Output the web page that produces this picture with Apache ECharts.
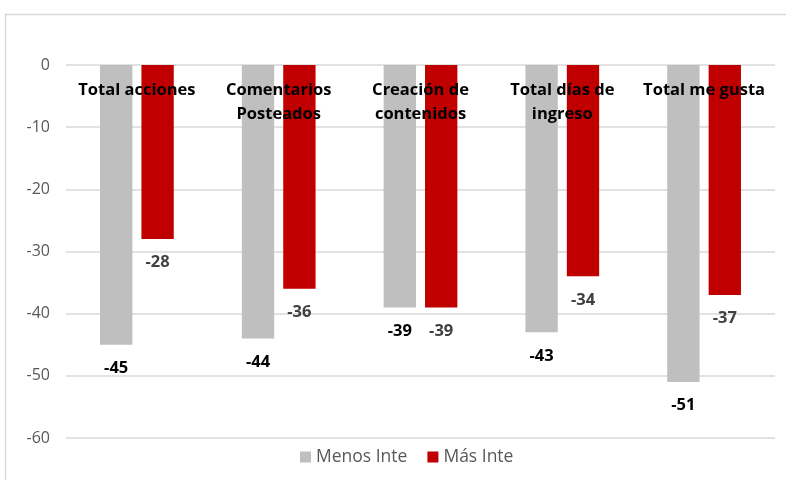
<!DOCTYPE html>
<html>
<head>
<meta charset="utf-8">
<script src="https://cdn.jsdelivr.net/npm/echarts@6/dist/echarts.min.js"></script>
<style>
html,body{margin:0;padding:0;background:#fff;}
#chart{width:786px;height:480px;}
</style>
</head>
<body>
<div id="chart"></div>
<script>
var categories = ['Total acciones', 'Comentarios\nPosteados', 'Creación de\ncontenidos', 'Total días de\ningreso', 'Total me gusta'];
var menosInte = [-45, -44, -39, -43, -51];
var masInte = [-28, -36, -39, -34, -37];
var seriesNames = ['Menos Inte', 'Más Inte'];

var font = 'Open Sans';
var myChart = echarts.init(document.getElementById('chart'));

var option = {
    animation: false,
    textStyle: {fontFamily: font},
    graphic: [{
        type: 'rect',
        shape: {x: 5.5, y: 14.5, width: 800, height: 500},
        style: {fill: 'none', stroke: '#d9d9d9', lineWidth: 1.5},
        silent: true
    }],
    grid: {left: 66, right: 11, top: 65, bottom: 42},
    legend: {
        bottom: 9,
        left: 295,
        itemWidth: 11,
        itemHeight: 11,
        itemGap: 20,
        icon: 'rect',
        textStyle: {color: '#595959', fontSize: 17.5, fontFamily: font},
        data: seriesNames
    },
    xAxis: {
        type: 'category',
        position: 'top',
        data: categories,
        axisLine: {show: false},
        axisTick: {show: false},
        axisLabel: {
            inside: true,
            margin: 13,
            color: '#000',
            fontWeight: 'bold',
            fontSize: 16.5,
            lineHeight: 24,
            verticalAlign: 'top',
            interval: 0
        },
        z: 10
    },
    yAxis: {
        type: 'value',
        min: -60,
        max: 0,
        interval: 10,
        axisLine: {show: false},
        axisTick: {show: false},
        splitLine: {lineStyle: {color: '#d9d9d9', width: 1.5}},
        axisLabel: {color: '#595959', fontSize: 16, margin: 16}
    },
    series: [{
        name: seriesNames[0],
        type: 'bar',
        data: menosInte,
        barGap: '28%',
        barCategoryGap: '48%',
        itemStyle: {color: '#bfbfbf'},
        label: {
            show: true,
            position: 'bottom',
            distance: 15,
            color: '#000',
            fontWeight: 'bold',
            fontSize: 16.5
        }
    }, {
        name: seriesNames[1],
        type: 'bar',
        data: masInte,
        itemStyle: {color: '#c00000'},
        label: {
            show: true,
            position: 'bottom',
            distance: 15,
            color: '#404040',
            fontWeight: 'bold',
            fontSize: 16.5
        }
    }]
};
myChart.setOption(option);
</script>
</body>
</html>
